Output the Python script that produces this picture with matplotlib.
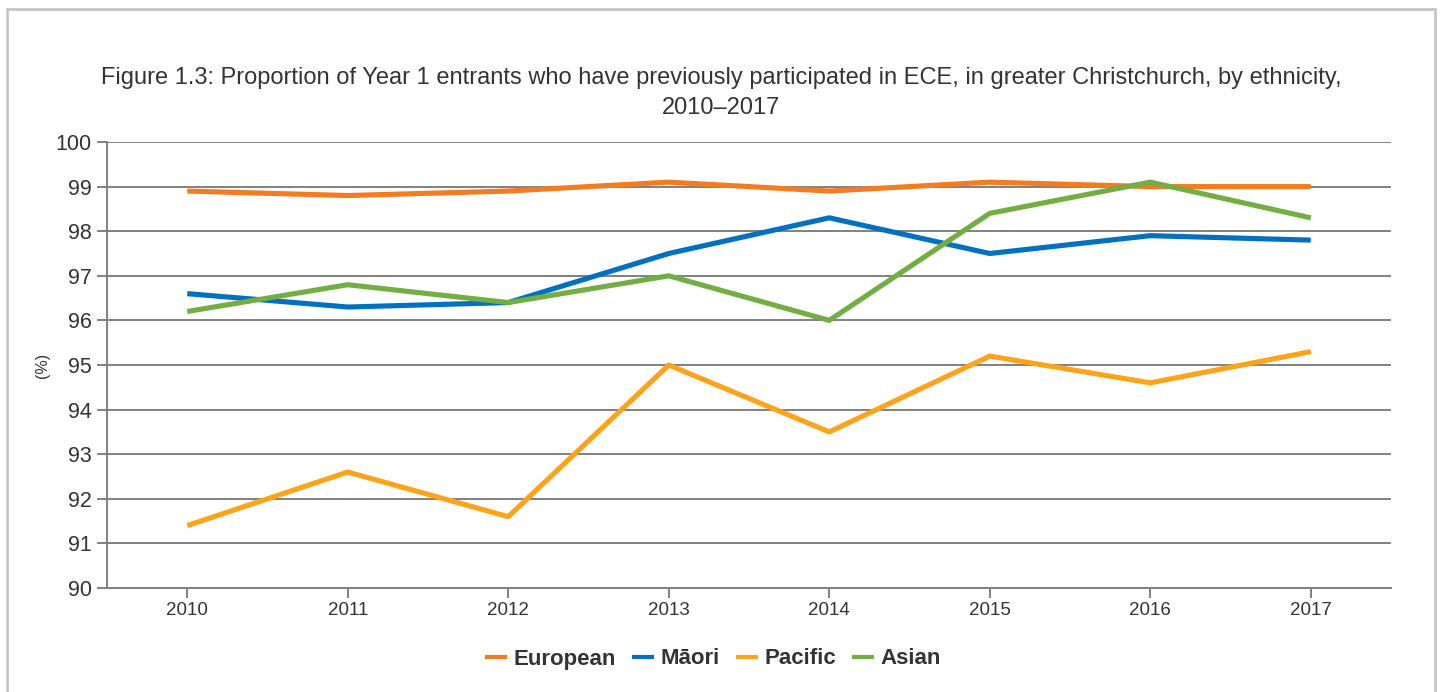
import matplotlib.pyplot as plt
from matplotlib.patches import Rectangle

plt.rcParams['font.family'] = ['Liberation Sans', 'DejaVu Sans']

# data
years = ['2010', '2011', '2012', '2013', '2014', '2015', '2016', '2017']
european = [98.9, 98.8, 98.9, 99.1, 98.9, 99.1, 99.0, 99.0]
maori = [96.6, 96.3, 96.4, 97.5, 98.3, 97.5, 97.9, 97.8]
pacific = [91.4, 92.6, 91.6, 95.0, 93.5, 95.2, 94.6, 95.3]
asian = [96.2, 96.8, 96.4, 97.0, 96.0, 98.4, 99.1, 98.3]

series = [('European', european, '#F47B20'),
          ('Māori', maori, '#0070C0'),
          ('Pacific', pacific, '#FFA31A'),
          ('Asian', asian, '#72AE42')]

fig = plt.figure(figsize=(14.42, 6.92), dpi=100)
ax = fig.add_axes([107/1442, 1-588/692, (1391-107)/1442, (588-142)/692])

# outer frame
fig.patches.append(Rectangle((7/1442, -0.05), (1435-7)/1442, 1.05-9/692,
                             transform=fig.transFigure, fill=False,
                             edgecolor='#c6c6c6', linewidth=2))

x = range(len(years))
for name, vals, col in series:
    ax.plot(x, vals, color=col, linewidth=3.7, label=name, solid_capstyle='butt', zorder=3)

ax.set_xlim(-0.5, len(years) - 0.5)
ax.set_ylim(90, 100)
ax.set_yticks(range(90, 101))
ax.set_xticks(list(x))
ax.set_xticklabels(years)
ax.grid(axis='y', color='#808080', linewidth=1.4)
ax.set_axisbelow(True)
for s in ['top', 'right']:
    ax.spines[s].set_visible(False)
for s in ['left', 'bottom']:
    ax.spines[s].set_color('#808080')
    ax.spines[s].set_linewidth(1.4)
ax.tick_params(axis='y', labelsize=15.5, colors='#808080', labelcolor='#333333', length=7, width=1.4, pad=4)
ax.tick_params(axis='x', labelsize=13.5, colors='#808080', labelcolor='#333333', length=7, width=1.4, pad=3)

ax.set_ylabel('(%)', fontsize=11.5, color='#333333', labelpad=4)

fig.text(0.5, 1-78/692, 'Figure 1.3: Proportion of Year 1 entrants who have previously participated in ECE, in greater Christchurch, by ethnicity,',
         ha='center', va='center', fontsize=17, color='#333333')
fig.text(0.5, 1-108/692, '2010–2017', ha='center', va='center', fontsize=17, color='#333333')

leg = fig.legend(loc='center', bbox_to_anchor=(713/1442, 1-659/692), ncol=4, frameon=False,
                 handlelength=1.0, handletextpad=0.3, columnspacing=0.7,
                 prop={'size': 16, 'weight': 'bold'})
for t in leg.get_texts():
    t.set_color('#333333')
for h in leg.get_lines():
    h.set_linewidth(3)

fig.savefig('out.png', dpi=100)
